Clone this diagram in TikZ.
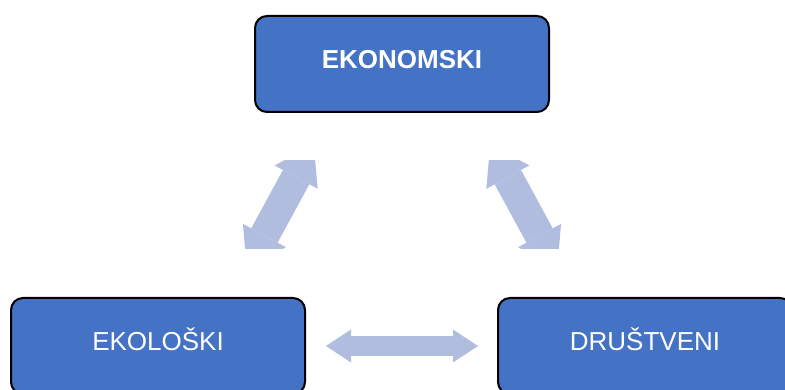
\documentclass[tikz,border=0pt]{standalone}
\usepackage{fontspec}
\setmainfont{Liberation Sans}
\usepackage{xcolor}
\usetikzlibrary{arrows.meta,calc}

\definecolor{boxblue}{RGB}{68,114,196}
\definecolor{linkblue}{RGB}{177,189,223}

\begin{document}
\begin{tikzpicture}[x=1pt,y=1pt,
    pillar/.style={draw=black, line width=2pt, fill=boxblue, rounded corners=12pt,
        minimum width=294pt, minimum height=96pt, inner sep=0pt, text=white,
        font=\fontsize{26}{30}\selectfont, text height=19pt, text depth=9pt},
    link/.style={linkblue, line width=20pt, <->,
        >={Triangle[length=25pt,width=33pt,line width=0pt]}},
    slantlink/.style={linkblue, line width=30pt, <->,
        >={Triangle[length=37pt,width=49pt,line width=0pt]}}]
        % Frame
        \clip (0,0) rectangle (785,390);

        % Pillars
        \node[pillar] (ekonomski) at (402,326) {\bfseries EKONOMSKI};
        \node[pillar] (ekoloski) at (158,44) {EKOLOŠKI};
        \node[pillar] (drustveni) at (645,44) {DRUŠTVENI};

        % Links
        \draw[link, shorten <=20pt, shorten >=19pt] (ekoloski.east) -- (drustveni.west);
        \begin{scope}
            \clip (0,141.5) rectangle (785,229);
            \draw[slantlink, shorten <=33pt, shorten >=36pt]
                ($(ekoloski.north)+(73,0)$) -- ($(ekonomski.south)+(-71,0)$);
            \draw[slantlink, shorten <=33pt, shorten >=36pt]
                ($(drustveni.north)+(-72,0)$) -- ($(ekonomski.south)+(71,0)$);
        \end{scope}
    \end{tikzpicture}
\end{document}
